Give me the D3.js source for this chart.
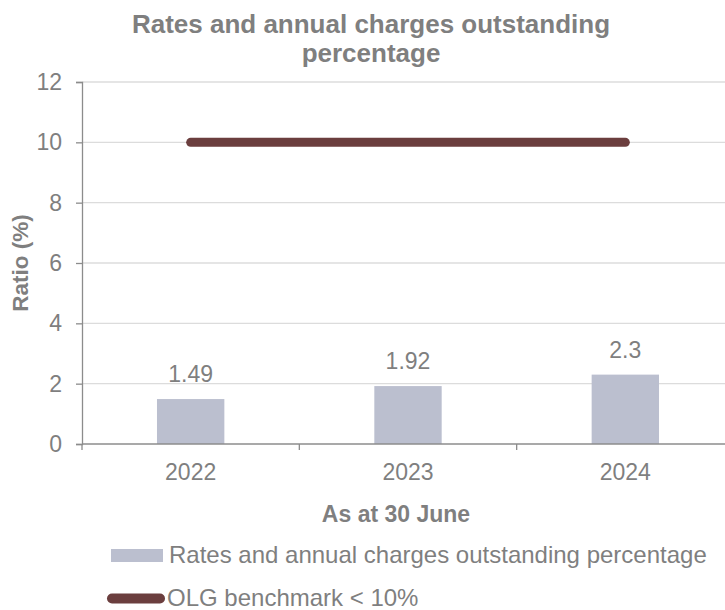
<!DOCTYPE html>
<html>
<head>
<meta charset="utf-8">
<script src="https://cdn.jsdelivr.net/npm/d3@7"></script>
<style>
  html, body { margin: 0; padding: 0; background: #fff; }
  svg { display: block; font-family: "Liberation Sans", Arial, sans-serif; }
</style>
</head>
<body>
<svg id="chart" width="725" height="610"></svg>
<script>
// Financial years and values
const years = ["2022", "2023", "2024"];
const outstanding = [1.49, 1.92, 2.3];
const benchmark = [10, 10, 10];
const yTicks = [0, 2, 4, 6, 8, 10, 12];

const titleLines = ["Rates and annual charges outstanding", "percentage"];
const seriesNames = ["Rates and annual charges outstanding percentage", "OLG benchmark < 10%"];

const W = 725, H = 610;
// The plot area runs a little past the right edge of the canvas
const plot = { left: 82, right: 734, top: 82, bottom: 444 };
const svg = d3.select("#chart");

const x = d3.scaleBand().domain(years).range([plot.left, plot.right]);
const y = d3.scaleLinear().domain([0, 12]).range([plot.bottom, plot.top]);

const grey = "#7f7f7f";
const axisColor = "#8c8c8c";
const barColor = "#bbbfcf";
const lineColor = "#6b3e3e";
const fontFamily = "Liberation Sans, Arial, sans-serif";

// Horizontal gridlines
svg.append("g").selectAll("line").data(yTicks.filter(d => d > 0)).join("line")
  .attr("x1", plot.left).attr("x2", W)
  .attr("y1", d => y(d)).attr("y2", d => y(d))
  .attr("stroke", "#dcdcdc").attr("stroke-width", 1.3);

// Y axis
const yAxis = svg.append("g").attr("transform", `translate(${plot.left},0)`)
  .call(d3.axisLeft(y).tickValues(yTicks).tickSize(6).tickPadding(14));
yAxis.select(".domain").attr("stroke", axisColor).attr("stroke-width", 1.3);
yAxis.selectAll(".tick line").attr("stroke", axisColor).attr("stroke-width", 1.3);
yAxis.selectAll(".tick text").attr("fill", grey).attr("font-size", 23)
  .attr("font-family", fontFamily);

// Bars
const barW = x.bandwidth() * 0.31;
svg.append("g").selectAll("rect").data(years).join("rect")
  .attr("x", d => x(d) + x.bandwidth() / 2 - barW / 2)
  .attr("width", barW)
  .attr("y", (d, i) => y(outstanding[i]))
  .attr("height", (d, i) => y(0) - y(outstanding[i]))
  .attr("fill", barColor);

// X axis with ticks on band edges
const xAxisG = svg.append("g").attr("transform", `translate(0,${y(0)})`);
xAxisG.append("line").attr("x1", plot.left).attr("x2", W)
  .attr("stroke", axisColor).attr("stroke-width", 1.3);
const edges = years.map(d => x(d)).concat([x(years[years.length - 1]) + x.bandwidth()]);
xAxisG.selectAll(".edge").data(edges).join("line").attr("class", "edge")
  .attr("x1", d => d).attr("x2", d => d).attr("y1", 0).attr("y2", 6)
  .attr("stroke", axisColor).attr("stroke-width", 1.3);
xAxisG.selectAll("text").data(years).join("text")
  .attr("x", d => x(d) + x.bandwidth() / 2).attr("y", 36)
  .attr("text-anchor", "middle").attr("fill", grey).attr("font-size", 23)
  .text(d => d);

// Value labels
svg.append("g").selectAll("text").data(years).join("text")
  .attr("x", d => x(d) + x.bandwidth() / 2)
  .attr("y", (d, i) => y(outstanding[i]) - 17)
  .attr("text-anchor", "middle").attr("fill", grey).attr("font-size", 23)
  .text((d, i) => outstanding[i]);

// Benchmark line
const line = d3.line().x(d => x(d[0]) + x.bandwidth() / 2).y(d => y(d[1]));
svg.append("path")
  .datum(years.map((d, i) => [d, benchmark[i]]))
  .attr("d", line).attr("fill", "none")
  .attr("stroke", lineColor).attr("stroke-width", 9).attr("stroke-linecap", "round");

// Title
svg.append("text").attr("x", 371).attr("y", 33).attr("text-anchor", "middle")
  .attr("fill", grey).attr("font-size", 26).attr("font-weight", "bold")
  .selectAll("tspan").data(titleLines).join("tspan")
  .attr("x", 371).attr("dy", (d, i) => i === 0 ? 0 : 29).text(d => d);

// Axis titles
svg.append("text").attr("transform", `translate(28,${y(6)}) rotate(-90)`)
  .attr("text-anchor", "middle").attr("fill", grey).attr("font-size", 22.5)
  .attr("font-weight", "bold").text("Ratio (%)");
svg.append("text").attr("x", 396).attr("y", 522)
  .attr("text-anchor", "middle").attr("fill", grey).attr("font-size", 23)
  .attr("font-weight", "bold").text("As at 30 June");

// Legend
const leg = svg.append("g");
leg.append("rect").attr("x", 111).attr("y", 549).attr("width", 52).attr("height", 13).attr("fill", barColor);
leg.append("text").attr("x", 169).attr("y", 563).attr("fill", grey).attr("font-size", 24).text(seriesNames[0]);
leg.append("line").attr("x1", 112).attr("x2", 160).attr("y1", 598.5).attr("y2", 598.5)
  .attr("stroke", lineColor).attr("stroke-width", 10).attr("stroke-linecap", "round");
leg.append("text").attr("x", 167).attr("y", 606).attr("fill", grey).attr("font-size", 24).text(seriesNames[1]);
</script>
</body>
</html>
